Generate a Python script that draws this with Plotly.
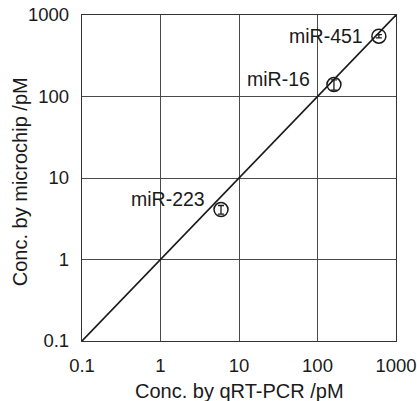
import math
import plotly.graph_objects as go

names = ["miR-223", "miR-16", "miR-451"]
qpcr = [5.9, 162, 605]
chip = [4.1, 140, 550]
chip_err = [0.5, 20, 25]
ref_line = [0.1, 1000]
tick_vals = [0.1, 1, 10, 100, 1000]
tick_text = ["0.1", "1", "10", "100", "1000"]
x_title = "Conc. by qRT-PCR /pM"
y_title = "Conc. by microchip /pM"

FONT = "Liberation Sans, Arial"
INK = "#1a1a1a"

fig = go.Figure()
fig.add_trace(go.Scatter(x=ref_line, y=ref_line, mode="lines",
                         line=dict(color=INK, width=1.6), showlegend=False))
fig.add_trace(go.Scatter(x=qpcr, y=chip, mode="markers",
                         marker=dict(symbol="circle-open", size=14, color=INK,
                                     line=dict(width=1.5)),
                         error_y=dict(type="data", array=chip_err, color=INK,
                                      thickness=1.3, width=3),
                         showlegend=False))

shifts = [(-14, 11), (-22, 6), (-14, 0)]
for n, xv, yv, s in zip(names, qpcr, chip, shifts):
    fig.add_annotation(x=math.log10(xv), y=math.log10(yv),
                       xref="x", yref="y", text=n, showarrow=False,
                       xanchor="right", yanchor="middle", xshift=s[0], yshift=s[1],
                       font=dict(family=FONT, size=19.5, color=INK))

# axis titles as annotations (positioned in paper space)
fig.add_annotation(x=0.5, y=-0.152, xref="paper", yref="paper", text=x_title,
                   showarrow=False, xanchor="center", yanchor="middle",
                   font=dict(family=FONT, size=20, color=INK))
fig.add_annotation(x=-0.1975, y=0.49, xref="paper", yref="paper", text=y_title,
                   showarrow=False, xanchor="center", yanchor="middle", textangle=-90,
                   font=dict(family=FONT, size=20, color=INK))

axis_common = dict(type="log", tickvals=tick_vals, ticktext=tick_text,
                   showgrid=True, gridcolor="#4a4a4a", gridwidth=1,
                   showline=True, linecolor="#333333", linewidth=1.3, mirror=True,
                   ticks="", zeroline=False, automargin=False,
                   tickfont=dict(family=FONT, size=18.5, color=INK))

fig.update_xaxes(range=[-1, 3], ticklabelstandoff=8, **axis_common)
fig.update_yaxes(range=[-1, 3], ticklabelstandoff=8, **axis_common)

fig.update_layout(width=417, height=401, margin=dict(l=82, r=21, t=15, b=60),
                  plot_bgcolor="white", paper_bgcolor="white")
fig.write_html("out.html", config={"displayModeBar": False},
               post_script="document.body.style.margin='0';")
